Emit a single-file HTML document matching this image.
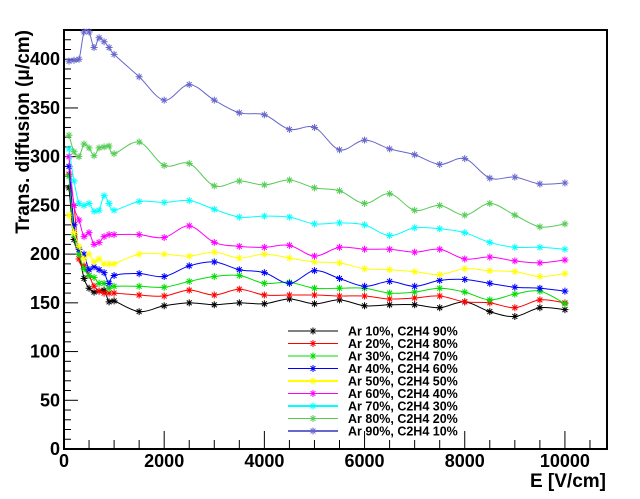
<!DOCTYPE html>
<html><head><meta charset="utf-8"><style>
html,body{margin:0;padding:0;background:#fff;}
svg{display:block;font-family:"Liberation Sans",sans-serif;}
</style></head><body>
<svg id="chart" width="640" height="499" xmlns="http://www.w3.org/2000/svg">
<g id="plot"></g>
</svg>
<script>
const xValues=[100,200,300,400,500,600,700,800,900,1000,1500,2000,2500,3000,3500,4000,4500,5000,5500,6000,6500,7000,7500,8000,8500,9000,9500,10000];
const seriesNames=["Ar 10%, C2H4 90%","Ar 20%, C2H4 80%","Ar 30%, C2H4 70%","Ar 40%, C2H4 60%","Ar 50%, C2H4 50%","Ar 60%, C2H4 40%","Ar 70%, C2H4 30%","Ar 80%, C2H4 20%","Ar 90%, C2H4 10%"];
const seriesColors=["#000000","#ff0000","#00dd00","#0000ff","#ffff00","#ff00ff","#00ffff","#55cc55","#6666cc"];
const ar10=[268,215,200,175,165,161,162,163,151,152,141,147,150,148,150,149,154,149,153,147,148,148,145,151,141,136,145,143];
const ar20=[282,250,195,188,178,167,162,160,160,160,158,157,163,158,164,158,158,158,157,157,154,155,157,151,150,145,153,150];
const ar30=[280,220,200,185,178,176,170,170,165,167,167,166,172,177,178,170,171,165,165,165,160,161,165,161,153,159,162,149];
const ar40=[290,230,205,200,184,187,184,181,170,178,180,177,188,192,184,181,170,183,175,167,172,167,173,174,170,166,165,162];
const ar50=[240,222,208,195,200,192,195,190,190,190,200,200,198,202,196,200,196,192,191,185,184,182,179,185,183,182,177,180];
const ar60=[300,250,235,218,222,210,212,218,220,220,220,217,229,212,208,207,209,198,207,205,205,202,205,195,197,193,191,194];
const ar70=[308,275,252,250,252,244,245,260,252,245,254,253,255,246,238,239,238,231,232,230,219,227,226,222,212,207,207,205];
const ar80=[322,305,300,313,309,301,309,310,311,303,315,291,293,270,275,271,276,268,265,252,262,245,250,240,252,240,228,231];
const ar90=[398,399,400,428,428,412,422,418,412,405,382,358,374,358,345,343,328,330,307,317,308,302,292,298,278,279,272,273];
const allSeries=[ar10,ar20,ar30,ar40,ar50,ar60,ar70,ar80,ar90];
const xTickLabels=[0,2000,4000,6000,8000,10000];
const yTickLabels=[0,50,100,150,200,250,300,350,400];

const X0=64,X1=607,Y0=449,Y1=30,XMAX=10840,YMAX=430;
function sx(v){return X0+(X1-X0)*v/XMAX;}
function sy(v){return Y0-(Y0-Y1)*v/YMAX;}
const NS="http://www.w3.org/2000/svg";
const svg=document.getElementById('chart');
function mk(tag,attrs,parent){const e=document.createElementNS(NS,tag);for(const k in attrs)e.setAttribute(k,attrs[k]);(parent||svg).appendChild(e);return e;}

const frame=mk('rect',{x:X0,y:Y1,width:X1-X0,height:Y0-Y1,fill:'none',stroke:'#000','stroke-width':2});



for(let v=0;v<=YMAX;v+=10){
  const major=v%50===0;
  const t=mk('line',{x1:X0,x2:X0+(major?14:7),y1:sy(v),y2:sy(v),stroke:'#000','stroke-width':1});
  
  
}
yTickLabels.forEach(v=>{
  const t=mk('text',{x:X0-4,y:sy(v)+6,'text-anchor':'end','font-size':18,'font-weight':'bold'});
  t.textContent=v;
  
  
});
for(let v=0;v<=XMAX;v+=500){
  const major=v%2000===0;
  const t=mk('line',{x1:sx(v),x2:sx(v),y1:Y0,y2:Y0-(major?18:9),stroke:'#000','stroke-width':1});
  
  
}
xTickLabels.forEach(v=>{
  const t=mk('text',{x:sx(v),y:467,'text-anchor':'middle','font-size':18,'font-weight':'bold'});
  t.textContent=v;
  
  
});
const xt=mk('text',{x:606,y:487,'text-anchor':'end','font-size':19,'font-weight':'bold'});
xt.textContent='E [V/cm]';


const yt=mk('text',{x:0,y:0,'text-anchor':'end','font-size':19,'font-weight':'bold',transform:'translate(29,30) rotate(-90)'});
yt.textContent='Trans. diffusion (\u03bc/cm)';



function star(g,x,y,c){
  const r=3.5;
  mk('path',{d:`M${x-r} ${y}H${x+r}M${x} ${y-r}V${y+r}M${x-r*0.7} ${y-r*0.7}L${x+r*0.7} ${y+r*0.7}M${x-r*0.7} ${y+r*0.7}L${x+r*0.7} ${y-r*0.7}`,stroke:c,'stroke-width':1,fill:'none'},g);
}
function splinePath(pts){
  let d=`M${pts[0][0]} ${pts[0][1]}`;
  for(let i=0;i<pts.length-1;i++){
    const p0=pts[Math.max(i-1,0)],p1=pts[i],p2=pts[i+1],p3=pts[Math.min(i+2,pts.length-1)];
    const c1=[p1[0]+(p2[0]-p0[0])/6,p1[1]+(p2[1]-p0[1])/6];
    const c2=[p2[0]-(p3[0]-p1[0])/6,p2[1]-(p3[1]-p1[1])/6];
    d+=`C${c1[0]} ${c1[1]} ${c2[0]} ${c2[1]} ${p2[0]} ${p2[1]}`;
  }
  return d;
}
allSeries.forEach((vals,si)=>{
  const c=seriesColors[si];
  const g=mk('g',{});
  
  
  const pts=vals.map((v,i)=>[sx(xValues[i]),sy(v)]);
  mk('path',{d:splinePath(pts),fill:'none',stroke:c,'stroke-width':1},g);
  pts.forEach(p=>star(g,p[0],p[1],c));
});
const lg=mk('g',{});


seriesNames.forEach((n,i)=>{
  const y=331+i*12.5;
  const e=mk('g',{},lg);
  
  
  mk('line',{x1:288,x2:338,y1:y,y2:y,stroke:seriesColors[i],'stroke-width':(i===4||i===6||i===8)?2:1},e);
  star(e,313,y,seriesColors[i]);
  const t=mk('text',{x:348,y:y+4.5,'font-size':12.5,'font-weight':'bold'},e);
  t.textContent=n;
});
</script>
</body></html>
